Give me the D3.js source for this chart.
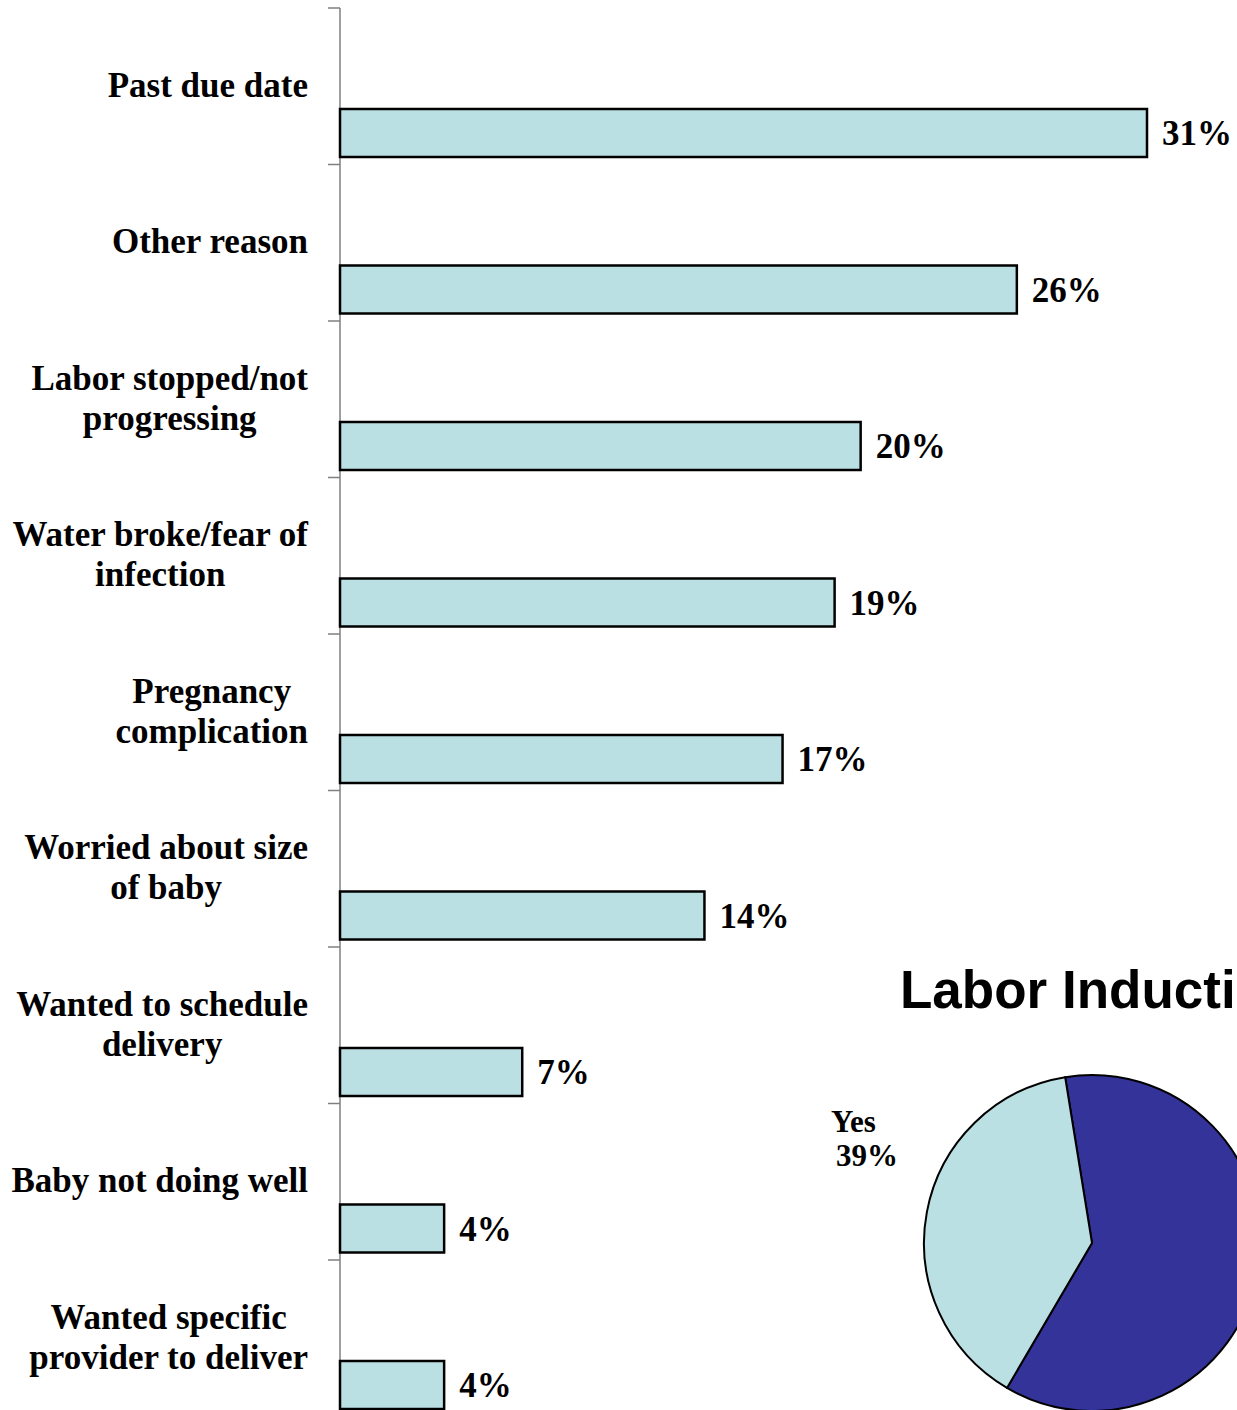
<!DOCTYPE html>
<html>
<head>
<meta charset="utf-8">
<script src="https://cdn.jsdelivr.net/npm/d3@7"></script>
<style>
  html, body { margin: 0; padding: 0; background: #fff; overflow: hidden; }
  svg { display: block; }
  .lbl { font-family: "Liberation Serif", "Times New Roman", serif; font-weight: bold; fill: #000; }
  .title { font-family: "Liberation Sans", Arial, sans-serif; font-weight: bold; fill: #000; }
</style>
</head>
<body>
<svg id="chart" width="1237" height="1410"></svg>
<script>
// reasons for induction (bar chart)
const categories = [
  "Past due date",
  "Other reason",
  "Labor stopped/not\nprogressing",
  "Water broke/fear of\ninfection",
  "Pregnancy\ncomplication",
  "Worried about size\nof baby",
  "Wanted to schedule\ndelivery",
  "Baby not doing well",
  "Wanted specific\nprovider to deliver"
];
const values = [31, 26, 20, 19, 17, 14, 7, 4, 4];

// labor induction pie
const pieLabels = ["No", "Yes"];
const pieValues = [61, 39];

const svg = d3.select("#chart");

const barFill = "#BBE0E3";
const pieColors = {No: "#333399", Yes: "#BBE0E3"};

// scales
let x = d3.scaleLinear().domain([0, 31]).range([340, 1147]);
let y = d3.scaleBand().domain(categories).range([8, 8 + 156.5 * categories.length]).paddingInner(0).paddingOuter(0);

// axis line + ticks at band boundaries
let axis = svg.append("g").attr("class", "axis");
axis.append("line")
  .attr("x1", x(0)).attr("x2", x(0))
  .attr("y1", y.range()[0]).attr("y2", y.range()[1])
  .attr("stroke", "#7f7f7f").attr("stroke-width", 1.5);
let tickYs = categories.map(c => y(c)).concat([y.range()[1]]);
axis.selectAll(".tick")
  .data(tickYs)
  .enter().append("line")
  .attr("class", "tick")
  .attr("x1", x(0) - 12).attr("x2", x(0))
  .attr("y1", d => d).attr("y2", d => d)
  .attr("stroke", "#7f7f7f").attr("stroke-width", 1.5);

// bars
const barOff = 101, barH = 48;
svg.selectAll(".bar")
  .data(values)
  .enter().append("rect")
  .attr("class", "bar")
  .attr("x", x(0))
  .attr("y", (d, i) => y(categories[i]) + barOff)
  .attr("width", d => x(d) - x(0))
  .attr("height", barH)
  .attr("fill", barFill)
  .attr("stroke", "#000")
  .attr("stroke-width", 2.5);

// value labels
svg.selectAll(".val")
  .data(values)
  .enter().append("text")
  .attr("class", "lbl val")
  .attr("x", d => x(d) + 15)
  .attr("y", (d, i) => y(categories[i]) + barOff + barH / 2 + 12)
  .attr("font-size", 35)
  .text(d => d + "%");

// category labels, lines centered, block right-aligned at 308
categories.forEach((c, i) => {
  let lines = c.split("\n");
  let g = svg.append("g");
  let base = y(c) + 88.5 - (lines.length - 1) * 20;
  let texts = lines.map((ln, j) => g.append("text")
    .attr("class", "lbl")
    .attr("font-size", 35)
    .attr("text-anchor", "middle")
    .attr("y", base + j * 40)
    .text(ln));
  let maxW = d3.max(texts, t => t.node().getComputedTextLength());
  texts.forEach(t => t.attr("x", 308 - maxW / 2));
});

// pie (title runs past the right edge, as in the source)
svg.append("text")
  .attr("class", "title")
  .attr("x", 900).attr("y", 1008)
  .attr("font-size", 53)
  .text("Labor Induction");

const cx = 1092, cy = 1243, r = 168;
const a0 = -9.2 * Math.PI / 180;
let pie = d3.pie().sort(null).startAngle(a0).endAngle(a0 + 2 * Math.PI);
let arc = d3.arc().innerRadius(0).outerRadius(r);
let arcs = pie(pieValues);
svg.append("g")
  .attr("transform", "translate(" + cx + "," + cy + ")")
  .selectAll("path")
  .data(arcs)
  .enter().append("path")
  .attr("d", arc)
  .attr("fill", (d, i) => pieColors[pieLabels[i]])
  .attr("stroke", "#000")
  .attr("stroke-width", 2)
  .attr("stroke-linejoin", "round");

// Yes label (the No label falls outside the frame)
let yesIdx = pieLabels.indexOf("Yes");
svg.append("text").attr("class", "lbl").attr("font-size", 31)
  .attr("x", 831).attr("y", 1132).text(pieLabels[yesIdx]);
svg.append("text").attr("class", "lbl").attr("font-size", 31)
  .attr("x", 836).attr("y", 1166).text(pieValues[yesIdx] + "%");
</script>
</body>
</html>
